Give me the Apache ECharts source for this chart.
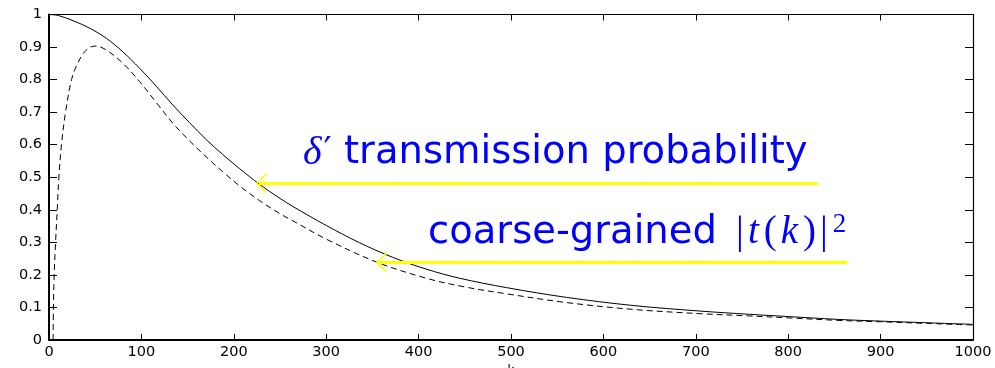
<!DOCTYPE html>
<html>
<head>
<meta charset="utf-8">
<script src="https://cdn.jsdelivr.net/npm/echarts@6/dist/echarts.min.js"></script>
<style>
html,body{margin:0;padding:0;background:#fff;overflow:hidden;}
#chart{width:995px;height:368px;}
</style>
</head>
<body>
<div id="chart"></div>
<script>
// ---- data ----
const xTickLabels = ['0','100','200','300','400','500','600','700','800','900','1000'];
const yTickLabels = ['0','0.1','0.2','0.3','0.4','0.5','0.6','0.7','0.8','0.9','1'];

// solid curve: delta' transmission probability
const kSolid = [0, 10, 26, 44, 62, 80, 98, 116, 134, 152, 170, 188, 206, 228, 250, 264, 300, 336, 372, 408, 444, 495, 560, 632, 704, 758, 800, 856, 900, 950, 1000];
const tSolid = [1.0, 0.997, 0.981, 0.958, 0.927, 0.885, 0.835, 0.78, 0.722, 0.668, 0.616, 0.570, 0.527, 0.478, 0.435, 0.410, 0.352, 0.299, 0.254, 0.218, 0.19, 0.161, 0.131, 0.106, 0.089, 0.079, 0.072, 0.063, 0.058, 0.053, 0.048];

// dashed curve: coarse-grained |t(k)|^2
const kDashed = [4.4, 4.8, 5.6, 7.1, 8.9, 10.7, 13.5, 17.9, 24.4, 31, 40, 50, 62, 80, 98, 116, 134, 152, 170, 188, 206, 228, 250, 264, 300, 354, 408, 450, 495, 560, 632, 704, 758, 800, 856, 900, 950, 1000];
const tDashed = [0, 0.1, 0.2, 0.3, 0.4, 0.5, 0.6, 0.7, 0.8, 0.85, 0.89, 0.903, 0.891, 0.85, 0.794, 0.73, 0.666, 0.612, 0.563, 0.517, 0.474, 0.428, 0.388, 0.366, 0.31, 0.24, 0.19, 0.163, 0.142, 0.115, 0.094, 0.081, 0.074, 0.068, 0.06, 0.056, 0.051, 0.046];

// annotation anchors (data coordinates)
const arrow1 = {tip: [225, 0.482], end: [832, 0.482]};
const arrow2 = {tip: [355, 0.240], end: [864, 0.240]};

const chart = echarts.init(document.getElementById('chart'), null, {renderer: 'canvas'});
const labelFont = {fontFamily: 'DejaVu Sans', fontSize: 14.5, color: '#000'};

const option = {
  animation: false,
  backgroundColor: '#fff',
  grid: {left: 49, right: 22, top: 14.5, bottom: 28, containLabel: false, outerBoundsMode: 'none'},
  xAxis: [{
    type: 'value', min: 0, max: 1000, interval: 100, position: 'bottom',
    name: 'k', nameLocation: 'middle', nameGap: 20,
    nameTextStyle: {fontFamily: 'DejaVu Sans', fontSize: 12, color: '#000'},
    axisLine: {show: true, onZero: false, lineStyle: {color: '#000', width: 2}},
    axisTick: {show: true, inside: true, length: 6, lineStyle: {color: '#000', width: 1}},
    axisLabel: Object.assign({margin: 5, formatter: v => xTickLabels[Math.round(v / 100)]}, labelFont),
    splitLine: {show: false}
  }, {
    type: 'value', min: 0, max: 1000, interval: 100, position: 'top',
    axisLine: {show: true, onZero: false, lineStyle: {color: '#000', width: 1.2}},
    axisTick: {show: true, inside: true, length: 6, lineStyle: {color: '#000', width: 1}},
    axisLabel: {show: false}, splitLine: {show: false}
  }],
  yAxis: [{
    type: 'value', min: 0, max: 1, interval: 0.1, position: 'left',
    axisLine: {show: true, onZero: false, lineStyle: {color: '#000', width: 2}},
    axisTick: {show: true, inside: true, length: 8, lineStyle: {color: '#000', width: 1}},
    axisLabel: Object.assign({margin: 7, formatter: v => yTickLabels[Math.round(v * 10)]}, labelFont),
    splitLine: {show: false}
  }, {
    type: 'value', min: 0, max: 1, interval: 0.1, position: 'right',
    axisLine: {show: true, onZero: false, lineStyle: {color: '#000', width: 1.2}},
    axisTick: {show: true, inside: true, length: 8, lineStyle: {color: '#000', width: 1}},
    axisLabel: {show: false}, splitLine: {show: false}
  }],
  series: [{
    type: 'line', name: 'solid', xAxisIndex: 0, yAxisIndex: 0,
    data: kSolid.map((k, i) => [k, tSolid[i]]),
    showSymbol: false, smooth: 0.35,
    lineStyle: {color: '#000', width: 1}
  }, {
    type: 'line', name: 'dashed', xAxisIndex: 0, yAxisIndex: 0,
    data: kDashed.map((k, i) => [k, tDashed[i]]),
    showSymbol: false, smooth: 0.35,
    lineStyle: {color: '#000', width: 1, type: [6, 4]}
  }]
};
chart.setOption(option);

function px(p) { return chart.convertToPixel({xAxisIndex: 0, yAxisIndex: 0}, p); }
function arrowGraphics(a) {
  const t = px(a.tip), e = px(a.end);
  const y = Math.round(t[1]) + 0.5;
  return [
    {type: 'line', shape: {x1: t[0] + 2, y1: y, x2: e[0], y2: y},
     style: {stroke: '#FFFF00', lineWidth: 3}, z: 100},
    {type: 'polyline', shape: {points: [[t[0] + 10, y - 10], [t[0], y], [t[0] + 9, y + 9]]},
     style: {stroke: '#FFFF00', lineWidth: 1.6, fill: null}, z: 100}
  ];
}

const blue = '#0000FF';
const graphics = [].concat(arrowGraphics(arrow1), arrowGraphics(arrow2));
graphics.push({
  type: 'text', z: 101, x: 303, y: 153,
  style: {
    text: '{d|δ}{p|′}{t| transmission probability}',
    verticalAlign: 'middle', align: 'left', fill: blue,
    rich: {
      d: {fontFamily: 'Liberation Serif', fontStyle: 'italic', fontSize: 40, fill: blue, lineHeight: 44},
      p: {fontFamily: 'DejaVu Serif', fontSize: 36, fill: blue, lineHeight: 44, padding: [0, 0, 0, 2]},
      t: {fontFamily: 'DejaVu Sans', fontSize: 38.5, fill: blue, lineHeight: 44}
    }
  }
});
graphics.push({
  type: 'text', z: 101, x: 428, y: 233,
  style: {
    text: '{t|coarse-grained }{m||}{i|t}{m|(}{i|k}{m|)}{m||}{s|2}',
    verticalAlign: 'middle', align: 'left', fill: blue,
    rich: {
      t: {fontFamily: 'DejaVu Sans', fontSize: 38.5, fill: blue, lineHeight: 44, padding: [0, 5, 0, 0]},
      m: {fontFamily: 'Liberation Serif', fontSize: 39, fill: blue, lineHeight: 44, padding: [0, 2, 0, 2]},
      i: {fontFamily: 'Liberation Serif', fontStyle: 'italic', fontSize: 39, fill: blue, lineHeight: 44, padding: [0, 3, 0, 2]},
      s: {fontFamily: 'Liberation Serif', fontSize: 27, fill: blue, lineHeight: 18, verticalAlign: 'top', padding: [0, 0, 0, 3]}
    }
  }
});
chart.setOption({graphic: graphics});
</script>
</body>
</html>
